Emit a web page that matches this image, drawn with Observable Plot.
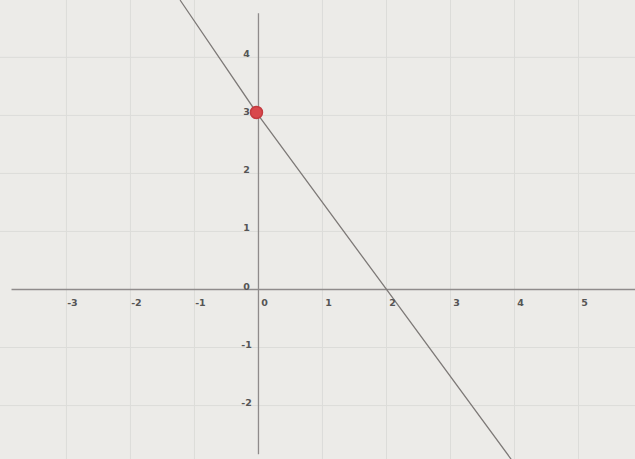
<!DOCTYPE html>
<html>
<head>
<meta charset="utf-8">
<script src="https://cdn.jsdelivr.net/npm/d3@7"></script>
<script src="https://cdn.jsdelivr.net/npm/@observablehq/plot@0.6"></script>
<style>
  html, body { margin: 0; padding: 0; background: #ecebe8; }
</style>
</head>
<body>
<div id="chart"></div>
<script>
// Data
const xTicks = [-3, -2, -1, 0, 1, 2, 3, 4, 5];
const yTicks = [-2, -1, 0, 1, 2, 3, 4];
const gridX = [-3, -2, -1, 1, 2, 3, 4, 5];
const gridY = [-2, -1, 1, 2, 3, 4];
const lineX = [-1.22, 0, 2, 3.95];
const lineY = [4.98, 3, 0, -2.93];
const pointX = [0];
const pointY = [3];

const lineData = lineX.map((x, i) => ({x, y: lineY[i]}));
const pointData = pointX.map((x, i) => ({x, y: pointY[i]}));
const xLabelData = xTicks.map(v => ({v, label: String(v)}));
const yLabelData = yTicks.map(v => ({v, label: String(v)}));

const chart = Plot.plot({
  width: 635,
  height: 459,
  margin: 0,
  x: {domain: [-4.03, 5.89], axis: null},
  y: {domain: [-2.93, 4.98], axis: null},
  style: {background: "#ecebe8", fontFamily: "DejaVu Sans, sans-serif"},
  marks: [
    Plot.ruleX(gridX, {x: d => d, y1: -2.93, y2: 4.98, stroke: "#dcdcd9", strokeWidth: 1}),
    Plot.ruleY(gridY, {y: d => d, x1: -4.03, x2: 5.89, stroke: "#dcdcd9", strokeWidth: 1}),
    Plot.ruleY([0], {x1: -3.85, x2: 5.89, stroke: "#8f8b8b", strokeWidth: 1.3}),
    Plot.ruleX([0], {y1: -2.85, y2: 4.75, stroke: "#8f8b8b", strokeWidth: 1.3}),
    Plot.line(lineData, {x: "x", y: "y", stroke: "#7d7977", strokeWidth: 1.3}),
    Plot.text(xLabelData, {x: d => d.v, y: 0, text: "label", dx: 6, dy: 13, fill: "#555", fontSize: 9.5, fontWeight: "bold"}),
    Plot.text(yLabelData, {x: 0, y: d => d.v, text: "label", dx: -12, dy: -3, fill: "#555", fontSize: 9.5, fontWeight: "bold", textAnchor: "middle"}),
    Plot.dot(pointData, {x: "x", y: "y", r: 6, fill: "#d9484c", stroke: "#c43b40", dx: -2, dy: -3})
  ]
});
document.getElementById("chart").append(chart);
</script>
</body>
</html>
